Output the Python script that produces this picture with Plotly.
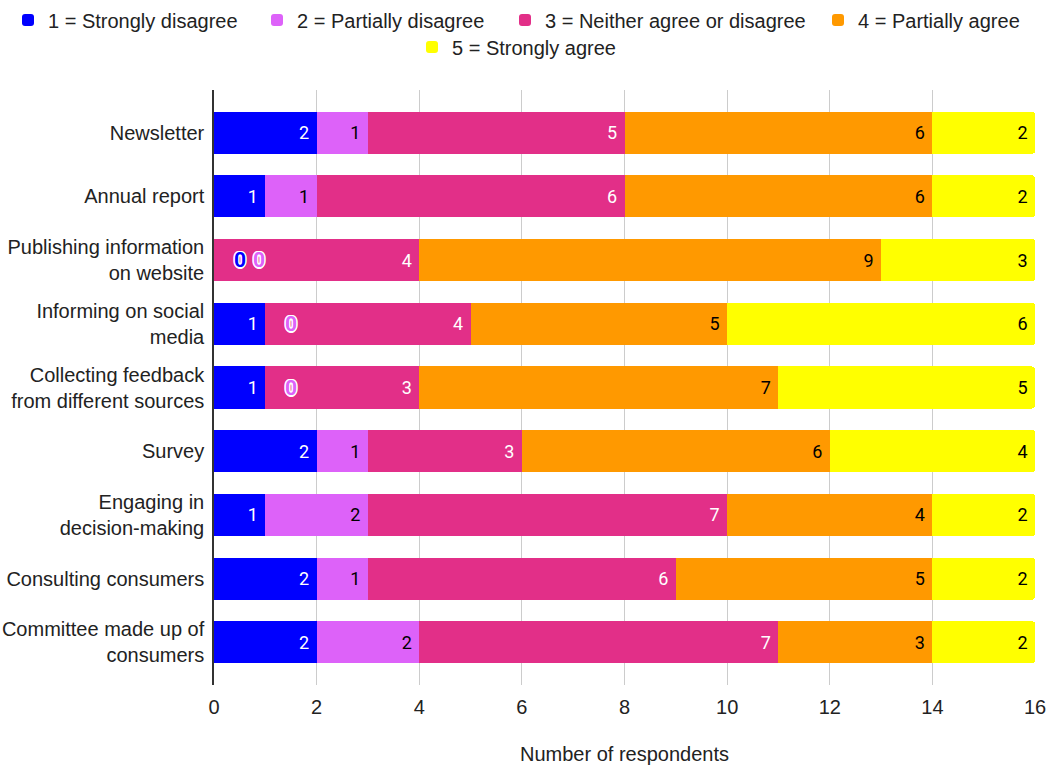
import plotly.graph_objects as go

categories = [
    "Newsletter",
    "Annual report",
    "Publishing information<br>on website",
    "Informing on social<br>media",
    "Collecting feedback<br>from different sources",
    "Survey",
    "Engaging in<br>decision-making",
    "Consulting consumers",
    "Committee made up of<br>consumers",
]

series_names = [
    "1 = Strongly disagree",
    "2 = Partially disagree",
    "3 = Neither agree or disagree",
    "4 = Partially agree",
    "5 = Strongly agree",
]

strongly_disagree = [2, 1, 0, 1, 1, 2, 1, 2, 2]
partially_disagree = [1, 1, 0, 0, 0, 1, 2, 1, 2]
neither = [5, 6, 4, 4, 3, 3, 7, 6, 7]
partially_agree = [6, 6, 9, 5, 7, 6, 4, 5, 3]
strongly_agree = [2, 2, 3, 6, 5, 4, 2, 2, 2]

x_ticks = [0, 2, 4, 6, 8, 10, 12, 14, 16]

colors = ["#0000ff", "#dd62f9", "#e22f88", "#ff9900", "#ffff00"]
label_colors = ["white", "black", "white", "black", "black"]

# one legend box per entry so the two centred rows keep their spacing
legend_ids = ["legend", "legend2", "legend3", "legend4", "legend5"]
legend_x = [8, 257, 505, 818, 412]      # px from the left edge of the page
legend_y = [20, 20, 20, 20, 47]         # px from the top of the page

all_series = [strongly_disagree, partially_disagree, neither, partially_agree, strongly_agree]

fig = go.Figure()

for name, vals, col, lcol, lg in zip(series_names, all_series, colors, label_colors, legend_ids):
    fig.add_trace(go.Bar(
        y=categories,
        x=vals,
        name=name,
        orientation="h",
        legend=lg,
        showlegend=True,
        marker=dict(color=col, line=dict(width=0)),
        text=[(str(v) + "\u00a0") if v else "" for v in vals],
        textposition="inside",
        insidetextanchor="end",
        textangle=0,
        textfont=dict(family="Roboto, Arial, sans-serif", size=18, color=lcol),
        hoverinfo="skip",
    ))

# zero-valued segments: outlined labels placed just past the stack base
outline = ("1.5px 0 0 white, -1.5px 0 0 white, 0 1.5px 0 white, 0 -1.5px 0 white, "
           "1px 1px 0 white, -1px -1px 0 white, 1px -1px 0 white, -1px 1px 0 white")
for ci, cat in enumerate(categories):
    base = 0
    zero_count = {}
    for si, vals in enumerate(all_series):
        v = vals[ci]
        if v == 0:
            k = zero_count.get(base, 0)
            zero_count[base] = k + 1
            fig.add_annotation(
                x=base + 0.5 + 0.37 * k, y=cat, text="<b>0</b>", showarrow=False,
                xanchor="center", yanchor="middle",
                font=dict(family="Roboto, Arial, sans-serif", size=21, color=colors[si],
                          shadow=outline),
            )
        base += v

W, H = 1051, 765
legends = {}
for lg, lx, ly in zip(legend_ids, legend_x, legend_y):
    legends[lg] = dict(
        orientation="h",
        xref="container", yref="container",
        x=lx / W, xanchor="left",
        y=1 - ly / H, yanchor="middle",
        font=dict(family="Arial, Liberation Sans, sans-serif", size=20, color="#222222"),
        itemwidth=30,
        bgcolor="rgba(0,0,0,0)",
    )

fig.update_layout(
    barmode="stack",
    bargap=0.34,
    barcornerradius=3,
    width=W,
    height=H,
    showlegend=True,
    margin=dict(l=214, r=16, t=90, b=80, autoexpand=False),
    paper_bgcolor="white",
    plot_bgcolor="white",
    font=dict(family="Arial, Liberation Sans, sans-serif", size=20, color="#222222"),
    xaxis=dict(
        range=[0, 16],
        tickvals=x_ticks,
        showgrid=True,
        gridcolor="#cccccc",
        gridwidth=1,
        zeroline=False,
        showline=False,
        ticks="",
        automargin=False,
        ticklabelstandoff=8,
        tickfont=dict(size=20, color="#222222"),
        title=dict(text="Number of respondents", font=dict(size=20, color="#222222"), standoff=32),
    ),
    yaxis=dict(
        autorange=False,
        range=[8.67, -0.67],
        showline=True,
        linecolor="#333333",
        linewidth=1.5,
        showgrid=False,
        ticks="",
        automargin=False,
        ticklabelstandoff=4,
        tickfont=dict(size=20, color="#222222"),
    ),
    **legends,
)

fig.write_html("out.html")
